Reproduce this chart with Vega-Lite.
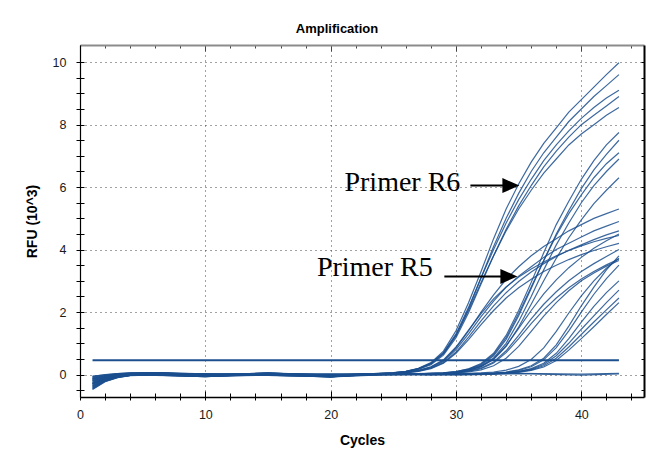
{
  "$schema": "https://vega.github.io/schema/vega-lite/v6.json",
  "autosize": "none",
  "width": 564,
  "height": 352,
  "padding": {"left": 80, "top": 45, "right": 15, "bottom": 62},
  "background": "#ffffff",
  "config": {"view": {"stroke": null}, "font": "Liberation Sans"},
  "title": {"text": "Amplification", "anchor": "middle", "dx": -25, "offset": 9, "font": "Liberation Sans", "fontSize": 13, "fontWeight": "bold", "color": "#000000"},
  "datasets": {
    "curves": [
      {"s":1,"c":1,"v":-0.12},{"s":1,"c":2,"v":-0.05},{"s":1,"c":3,"v":-0.02},{"s":1,"c":4,"v":0.02},{"s":1,"c":6,"v":0.05},{"s":1,"c":10,"v":-0.04},{"s":1,"c":15,"v":0.03},{"s":1,"c":20,"v":-0.06},{"s":1,"c":23,"v":0.02},{"s":1,"c":25,"v":0.06},{"s":1,"c":26,"v":0.1},{"s":1,"c":27,"v":0.2},{"s":1,"c":28,"v":0.38},{"s":1,"c":29,"v":0.75},{"s":1,"c":30,"v":1.4},{"s":1,"c":31,"v":2.3},{"s":1,"c":32,"v":3.3},{"s":1,"c":33,"v":4.35},{"s":1,"c":34,"v":5.3},{"s":1,"c":35,"v":6.1},{"s":1,"c":36,"v":6.8},{"s":1,"c":37,"v":7.4},{"s":1,"c":38,"v":7.9},{"s":1,"c":39,"v":8.4},{"s":1,"c":40,"v":8.8},{"s":1,"c":41,"v":9.2},{"s":1,"c":42,"v":9.6},{"s":1,"c":43,"v":9.98},
      {"s":2,"c":1,"v":-0.3},{"s":2,"c":2,"v":-0.14},{"s":2,"c":3,"v":-0.06},{"s":2,"c":4,"v":-0.02},{"s":2,"c":6,"v":-0.02},{"s":2,"c":10,"v":-0.07},{"s":2,"c":15,"v":0.02},{"s":2,"c":20,"v":-0.03},{"s":2,"c":23,"v":0.02},{"s":2,"c":25,"v":0.05},{"s":2,"c":26,"v":0.09},{"s":2,"c":27,"v":0.18},{"s":2,"c":28,"v":0.34},{"s":2,"c":29,"v":0.66},{"s":2,"c":30,"v":1.25},{"s":2,"c":31,"v":2.1},{"s":2,"c":32,"v":3.1},{"s":2,"c":33,"v":4.1},{"s":2,"c":34,"v":5.0},{"s":2,"c":35,"v":5.8},{"s":2,"c":36,"v":6.5},{"s":2,"c":37,"v":7.1},{"s":2,"c":38,"v":7.6},{"s":2,"c":39,"v":8.1},{"s":2,"c":40,"v":8.5},{"s":2,"c":41,"v":8.9},{"s":2,"c":42,"v":9.25},{"s":2,"c":43,"v":9.6},
      {"s":3,"c":1,"v":-0.2},{"s":3,"c":2,"v":-0.09},{"s":3,"c":3,"v":-0.03},{"s":3,"c":4,"v":0.03},{"s":3,"c":6,"v":0.06},{"s":3,"c":10,"v":0.02},{"s":3,"c":15,"v":-0.02},{"s":3,"c":20,"v":-0.08},{"s":3,"c":23,"v":0.01},{"s":3,"c":25,"v":0.05},{"s":3,"c":26,"v":0.1},{"s":3,"c":27,"v":0.19},{"s":3,"c":28,"v":0.36},{"s":3,"c":29,"v":0.7},{"s":3,"c":30,"v":1.3},{"s":3,"c":31,"v":2.15},{"s":3,"c":32,"v":3.1},{"s":3,"c":33,"v":4.0},{"s":3,"c":34,"v":4.85},{"s":3,"c":35,"v":5.6},{"s":3,"c":36,"v":6.25},{"s":3,"c":37,"v":6.85},{"s":3,"c":38,"v":7.35},{"s":3,"c":39,"v":7.8},{"s":3,"c":40,"v":8.2},{"s":3,"c":41,"v":8.55},{"s":3,"c":42,"v":8.85},{"s":3,"c":43,"v":9.1},
      {"s":4,"c":1,"v":-0.42},{"s":4,"c":2,"v":-0.2},{"s":4,"c":3,"v":-0.08},{"s":4,"c":4,"v":-0.03},{"s":4,"c":6,"v":0.0},{"s":4,"c":10,"v":-0.05},{"s":4,"c":15,"v":0.04},{"s":4,"c":20,"v":-0.02},{"s":4,"c":23,"v":0.02},{"s":4,"c":25,"v":0.04},{"s":4,"c":26,"v":0.08},{"s":4,"c":27,"v":0.16},{"s":4,"c":28,"v":0.31},{"s":4,"c":29,"v":0.62},{"s":4,"c":30,"v":1.18},{"s":4,"c":31,"v":1.98},{"s":4,"c":32,"v":2.9},{"s":4,"c":33,"v":3.8},{"s":4,"c":34,"v":4.65},{"s":4,"c":35,"v":5.4},{"s":4,"c":36,"v":6.05},{"s":4,"c":37,"v":6.65},{"s":4,"c":38,"v":7.15},{"s":4,"c":39,"v":7.6},{"s":4,"c":40,"v":8.0},{"s":4,"c":41,"v":8.3},{"s":4,"c":42,"v":8.6},{"s":4,"c":43,"v":8.9},
      {"s":5,"c":1,"v":-0.08},{"s":5,"c":2,"v":-0.03},{"s":5,"c":3,"v":0.02},{"s":5,"c":4,"v":0.04},{"s":5,"c":6,"v":0.04},{"s":5,"c":10,"v":-0.02},{"s":5,"c":15,"v":0.0},{"s":5,"c":20,"v":-0.07},{"s":5,"c":23,"v":0.01},{"s":5,"c":25,"v":0.05},{"s":5,"c":26,"v":0.09},{"s":5,"c":27,"v":0.18},{"s":5,"c":28,"v":0.35},{"s":5,"c":29,"v":0.68},{"s":5,"c":30,"v":1.25},{"s":5,"c":31,"v":2.05},{"s":5,"c":32,"v":2.95},{"s":5,"c":33,"v":3.8},{"s":5,"c":34,"v":4.6},{"s":5,"c":35,"v":5.3},{"s":5,"c":36,"v":5.9},{"s":5,"c":37,"v":6.45},{"s":5,"c":38,"v":6.9},{"s":5,"c":39,"v":7.35},{"s":5,"c":40,"v":7.7},{"s":5,"c":41,"v":8.0},{"s":5,"c":42,"v":8.3},{"s":5,"c":43,"v":8.55},
      {"s":6,"c":1,"v":-0.25},{"s":6,"c":2,"v":-0.11},{"s":6,"c":3,"v":-0.04},{"s":6,"c":4,"v":-0.01},{"s":6,"c":6,"v":0.02},{"s":6,"c":10,"v":-0.06},{"s":6,"c":15,"v":0.05},{"s":6,"c":20,"v":-0.04},{"s":6,"c":23,"v":0.01},{"s":6,"c":25,"v":0.04},{"s":6,"c":26,"v":0.07},{"s":6,"c":27,"v":0.13},{"s":6,"c":28,"v":0.24},{"s":6,"c":29,"v":0.45},{"s":6,"c":30,"v":0.85},{"s":6,"c":31,"v":1.4},{"s":6,"c":32,"v":2.0},{"s":6,"c":33,"v":2.55},{"s":6,"c":34,"v":3.05},{"s":6,"c":35,"v":3.45},{"s":6,"c":36,"v":3.8},{"s":6,"c":37,"v":4.1},{"s":6,"c":38,"v":4.35},{"s":6,"c":39,"v":4.6},{"s":6,"c":40,"v":4.8},{"s":6,"c":41,"v":5.0},{"s":6,"c":42,"v":5.15},{"s":6,"c":43,"v":5.3},
      {"s":7,"c":1,"v":-0.35},{"s":7,"c":2,"v":-0.16},{"s":7,"c":3,"v":-0.06},{"s":7,"c":4,"v":-0.02},{"s":7,"c":6,"v":-0.03},{"s":7,"c":10,"v":0.01},{"s":7,"c":15,"v":-0.03},{"s":7,"c":20,"v":-0.05},{"s":7,"c":23,"v":0.01},{"s":7,"c":25,"v":0.04},{"s":7,"c":26,"v":0.07},{"s":7,"c":27,"v":0.12},{"s":7,"c":28,"v":0.22},{"s":7,"c":29,"v":0.42},{"s":7,"c":30,"v":0.8},{"s":7,"c":31,"v":1.3},{"s":7,"c":32,"v":1.85},{"s":7,"c":33,"v":2.35},{"s":7,"c":34,"v":2.8},{"s":7,"c":35,"v":3.15},{"s":7,"c":36,"v":3.45},{"s":7,"c":37,"v":3.75},{"s":7,"c":38,"v":4.0},{"s":7,"c":39,"v":4.2},{"s":7,"c":40,"v":4.4},{"s":7,"c":41,"v":4.6},{"s":7,"c":42,"v":4.75},{"s":7,"c":43,"v":4.9},
      {"s":8,"c":1,"v":-0.15},{"s":8,"c":2,"v":-0.06},{"s":8,"c":3,"v":0.01},{"s":8,"c":4,"v":0.03},{"s":8,"c":6,"v":0.05},{"s":8,"c":10,"v":-0.03},{"s":8,"c":15,"v":0.01},{"s":8,"c":20,"v":0.02},{"s":8,"c":23,"v":0.02},{"s":8,"c":25,"v":0.03},{"s":8,"c":26,"v":0.06},{"s":8,"c":27,"v":0.11},{"s":8,"c":28,"v":0.2},{"s":8,"c":29,"v":0.38},{"s":8,"c":30,"v":0.72},{"s":8,"c":31,"v":1.2},{"s":8,"c":32,"v":1.72},{"s":8,"c":33,"v":2.2},{"s":8,"c":34,"v":2.62},{"s":8,"c":35,"v":2.98},{"s":8,"c":36,"v":3.28},{"s":8,"c":37,"v":3.55},{"s":8,"c":38,"v":3.78},{"s":8,"c":39,"v":3.98},{"s":8,"c":40,"v":4.15},{"s":8,"c":41,"v":4.32},{"s":8,"c":42,"v":4.47},{"s":8,"c":43,"v":4.6},
      {"s":9,"c":1,"v":-0.46},{"s":9,"c":2,"v":-0.22},{"s":9,"c":3,"v":-0.09},{"s":9,"c":4,"v":-0.03},{"s":9,"c":6,"v":-0.01},{"s":9,"c":10,"v":-0.05},{"s":9,"c":15,"v":0.03},{"s":9,"c":20,"v":-0.08},{"s":9,"c":23,"v":0.01},{"s":9,"c":25,"v":0.04},{"s":9,"c":26,"v":0.07},{"s":9,"c":27,"v":0.13},{"s":9,"c":28,"v":0.25},{"s":9,"c":29,"v":0.47},{"s":9,"c":30,"v":0.88},{"s":9,"c":31,"v":1.42},{"s":9,"c":32,"v":1.95},{"s":9,"c":33,"v":2.42},{"s":9,"c":34,"v":2.8},{"s":9,"c":35,"v":3.12},{"s":9,"c":36,"v":3.38},{"s":9,"c":37,"v":3.6},{"s":9,"c":38,"v":3.8},{"s":9,"c":39,"v":3.97},{"s":9,"c":40,"v":4.12},{"s":9,"c":41,"v":4.25},{"s":9,"c":42,"v":4.36},{"s":9,"c":43,"v":4.45},
      {"s":10,"c":1,"v":-0.05},{"s":10,"c":2,"v":-0.01},{"s":10,"c":3,"v":0.03},{"s":10,"c":4,"v":0.05},{"s":10,"c":6,"v":0.06},{"s":10,"c":10,"v":0.0},{"s":10,"c":15,"v":-0.01},{"s":10,"c":20,"v":-0.03},{"s":10,"c":23,"v":0.01},{"s":10,"c":25,"v":0.03},{"s":10,"c":26,"v":0.05},{"s":10,"c":27,"v":0.1},{"s":10,"c":28,"v":0.19},{"s":10,"c":29,"v":0.36},{"s":10,"c":30,"v":0.68},{"s":10,"c":31,"v":1.12},{"s":10,"c":32,"v":1.6},{"s":10,"c":33,"v":2.05},{"s":10,"c":34,"v":2.45},{"s":10,"c":35,"v":2.78},{"s":10,"c":36,"v":3.05},{"s":10,"c":37,"v":3.3},{"s":10,"c":38,"v":3.5},{"s":10,"c":39,"v":3.68},{"s":10,"c":40,"v":3.84},{"s":10,"c":41,"v":3.97},{"s":10,"c":42,"v":4.09},{"s":10,"c":43,"v":4.2},
      {"s":11,"c":1,"v":-0.28},{"s":11,"c":2,"v":-0.12},{"s":11,"c":3,"v":-0.05},{"s":11,"c":4,"v":-0.01},{"s":11,"c":6,"v":0.03},{"s":11,"c":10,"v":-0.06},{"s":11,"c":15,"v":0.02},{"s":11,"c":20,"v":-0.05},{"s":11,"c":24,"v":0.0},{"s":11,"c":27,"v":0.02},{"s":11,"c":29,"v":0.05},{"s":11,"c":30,"v":0.09},{"s":11,"c":31,"v":0.18},{"s":11,"c":32,"v":0.35},{"s":11,"c":33,"v":0.68},{"s":11,"c":34,"v":1.25},{"s":11,"c":35,"v":2.05},{"s":11,"c":36,"v":2.95},{"s":11,"c":37,"v":3.9},{"s":11,"c":38,"v":4.8},{"s":11,"c":39,"v":5.55},{"s":11,"c":40,"v":6.25},{"s":11,"c":41,"v":6.85},{"s":11,"c":42,"v":7.35},{"s":11,"c":43,"v":7.75},
      {"s":12,"c":1,"v":-0.38},{"s":12,"c":2,"v":-0.18},{"s":12,"c":3,"v":-0.07},{"s":12,"c":4,"v":-0.02},{"s":12,"c":6,"v":-0.02},{"s":12,"c":10,"v":-0.03},{"s":12,"c":15,"v":0.04},{"s":12,"c":20,"v":-0.07},{"s":12,"c":24,"v":0.01},{"s":12,"c":27,"v":0.02},{"s":12,"c":29,"v":0.04},{"s":12,"c":30,"v":0.08},{"s":12,"c":31,"v":0.16},{"s":12,"c":32,"v":0.3},{"s":12,"c":33,"v":0.6},{"s":12,"c":34,"v":1.12},{"s":12,"c":35,"v":1.88},{"s":12,"c":36,"v":2.75},{"s":12,"c":37,"v":3.65},{"s":12,"c":38,"v":4.5},{"s":12,"c":39,"v":5.25},{"s":12,"c":40,"v":5.95},{"s":12,"c":41,"v":6.55},{"s":12,"c":42,"v":7.05},{"s":12,"c":43,"v":7.5},
      {"s":13,"c":1,"v":-0.18},{"s":13,"c":2,"v":-0.08},{"s":13,"c":3,"v":-0.01},{"s":13,"c":4,"v":0.02},{"s":13,"c":6,"v":0.04},{"s":13,"c":10,"v":0.02},{"s":13,"c":15,"v":-0.02},{"s":13,"c":20,"v":-0.02},{"s":13,"c":24,"v":0.0},{"s":13,"c":27,"v":0.02},{"s":13,"c":29,"v":0.05},{"s":13,"c":30,"v":0.09},{"s":13,"c":31,"v":0.17},{"s":13,"c":32,"v":0.33},{"s":13,"c":33,"v":0.64},{"s":13,"c":34,"v":1.18},{"s":13,"c":35,"v":1.95},{"s":13,"c":36,"v":2.8},{"s":13,"c":37,"v":3.65},{"s":13,"c":38,"v":4.45},{"s":13,"c":39,"v":5.15},{"s":13,"c":40,"v":5.75},{"s":13,"c":41,"v":6.3},{"s":13,"c":42,"v":6.75},{"s":13,"c":43,"v":7.1},
      {"s":14,"c":1,"v":-0.1},{"s":14,"c":2,"v":-0.04},{"s":14,"c":3,"v":0.01},{"s":14,"c":4,"v":0.03},{"s":14,"c":6,"v":0.05},{"s":14,"c":10,"v":-0.04},{"s":14,"c":15,"v":0.0},{"s":14,"c":20,"v":0.01},{"s":14,"c":24,"v":0.01},{"s":14,"c":27,"v":0.02},{"s":14,"c":29,"v":0.04},{"s":14,"c":30,"v":0.07},{"s":14,"c":31,"v":0.14},{"s":14,"c":32,"v":0.27},{"s":14,"c":33,"v":0.53},{"s":14,"c":34,"v":1.0},{"s":14,"c":35,"v":1.7},{"s":14,"c":36,"v":2.5},{"s":14,"c":37,"v":3.35},{"s":14,"c":38,"v":4.15},{"s":14,"c":39,"v":4.85},{"s":14,"c":40,"v":5.5},{"s":14,"c":41,"v":6.05},{"s":14,"c":42,"v":6.5},{"s":14,"c":43,"v":6.9},
      {"s":15,"c":1,"v":-0.32},{"s":15,"c":2,"v":-0.15},{"s":15,"c":3,"v":-0.06},{"s":15,"c":4,"v":-0.02},{"s":15,"c":6,"v":-0.01},{"s":15,"c":10,"v":-0.07},{"s":15,"c":15,"v":0.03},{"s":15,"c":20,"v":-0.06},{"s":15,"c":24,"v":0.0},{"s":15,"c":27,"v":0.02},{"s":15,"c":29,"v":0.04},{"s":15,"c":30,"v":0.07},{"s":15,"c":31,"v":0.13},{"s":15,"c":32,"v":0.25},{"s":15,"c":33,"v":0.48},{"s":15,"c":34,"v":0.9},{"s":15,"c":35,"v":1.52},{"s":15,"c":36,"v":2.25},{"s":15,"c":37,"v":3.0},{"s":15,"c":38,"v":3.72},{"s":15,"c":39,"v":4.38},{"s":15,"c":40,"v":4.95},{"s":15,"c":41,"v":5.47},{"s":15,"c":42,"v":5.9},{"s":15,"c":43,"v":6.3},
      {"s":16,"c":1,"v":-0.22},{"s":16,"c":2,"v":-0.1},{"s":16,"c":3,"v":-0.04},{"s":16,"c":4,"v":-0.01},{"s":16,"c":6,"v":0.03},{"s":16,"c":10,"v":-0.02},{"s":16,"c":15,"v":0.05},{"s":16,"c":20,"v":-0.04},{"s":16,"c":24,"v":0.01},{"s":16,"c":27,"v":0.02},{"s":16,"c":29,"v":0.04},{"s":16,"c":30,"v":0.06},{"s":16,"c":31,"v":0.11},{"s":16,"c":32,"v":0.21},{"s":16,"c":33,"v":0.4},{"s":16,"c":34,"v":0.76},{"s":16,"c":35,"v":1.25},{"s":16,"c":36,"v":1.78},{"s":16,"c":37,"v":2.25},{"s":16,"c":38,"v":2.65},{"s":16,"c":39,"v":3.0},{"s":16,"c":40,"v":3.3},{"s":16,"c":41,"v":3.55},{"s":16,"c":42,"v":3.78},{"s":16,"c":43,"v":4.0},
      {"s":17,"c":1,"v":-0.4},{"s":17,"c":2,"v":-0.19},{"s":17,"c":3,"v":-0.08},{"s":17,"c":4,"v":-0.03},{"s":17,"c":6,"v":-0.03},{"s":17,"c":10,"v":-0.06},{"s":17,"c":15,"v":-0.01},{"s":17,"c":20,"v":-0.08},{"s":17,"c":24,"v":0.0},{"s":17,"c":27,"v":0.02},{"s":17,"c":29,"v":0.03},{"s":17,"c":30,"v":0.06},{"s":17,"c":31,"v":0.1},{"s":17,"c":32,"v":0.19},{"s":17,"c":33,"v":0.37},{"s":17,"c":34,"v":0.7},{"s":17,"c":35,"v":1.15},{"s":17,"c":36,"v":1.63},{"s":17,"c":37,"v":2.07},{"s":17,"c":38,"v":2.45},{"s":17,"c":39,"v":2.78},{"s":17,"c":40,"v":3.06},{"s":17,"c":41,"v":3.3},{"s":17,"c":42,"v":3.51},{"s":17,"c":43,"v":3.7},
      {"s":18,"c":1,"v":-0.14},{"s":18,"c":2,"v":-0.06},{"s":18,"c":3,"v":0.0},{"s":18,"c":4,"v":0.02},{"s":18,"c":6,"v":0.06},{"s":18,"c":10,"v":0.01},{"s":18,"c":15,"v":0.02},{"s":18,"c":20,"v":-0.01},{"s":18,"c":24,"v":0.01},{"s":18,"c":27,"v":0.03},{"s":18,"c":29,"v":0.05},{"s":18,"c":30,"v":0.08},{"s":18,"c":31,"v":0.14},{"s":18,"c":32,"v":0.26},{"s":18,"c":33,"v":0.5},{"s":18,"c":34,"v":0.92},{"s":18,"c":35,"v":1.48},{"s":18,"c":36,"v":2.05},{"s":18,"c":37,"v":2.58},{"s":18,"c":38,"v":3.03},{"s":18,"c":39,"v":3.42},{"s":18,"c":40,"v":3.75},{"s":18,"c":41,"v":4.04},{"s":18,"c":42,"v":4.28},{"s":18,"c":43,"v":4.5},
      {"s":19,"c":1,"v":-0.3},{"s":19,"c":2,"v":-0.14},{"s":19,"c":3,"v":-0.05},{"s":19,"c":4,"v":-0.01},{"s":19,"c":6,"v":0.01},{"s":19,"c":10,"v":-0.05},{"s":19,"c":15,"v":0.03},{"s":19,"c":20,"v":-0.05},{"s":19,"c":24,"v":0.0},{"s":19,"c":27,"v":0.01},{"s":19,"c":29,"v":0.03},{"s":19,"c":30,"v":0.05},{"s":19,"c":31,"v":0.08},{"s":19,"c":32,"v":0.15},{"s":19,"c":33,"v":0.28},{"s":19,"c":34,"v":0.52},{"s":19,"c":35,"v":0.9},{"s":19,"c":36,"v":1.38},{"s":19,"c":37,"v":1.87},{"s":19,"c":38,"v":2.3},{"s":19,"c":39,"v":2.68},{"s":19,"c":40,"v":3.0},{"s":19,"c":41,"v":3.25},{"s":19,"c":42,"v":3.47},{"s":19,"c":43,"v":3.65},
      {"s":20,"c":1,"v":-0.26},{"s":20,"c":2,"v":-0.12},{"s":20,"c":3,"v":-0.05},{"s":20,"c":4,"v":-0.01},{"s":20,"c":6,"v":0.04},{"s":20,"c":10,"v":-0.03},{"s":20,"c":15,"v":0.0},{"s":20,"c":20,"v":-0.06},{"s":20,"c":24,"v":0.02},{"s":20,"c":28,"v":0.03},{"s":20,"c":31,"v":0.0},{"s":20,"c":33,"v":0.05},{"s":20,"c":34,"v":0.08},{"s":20,"c":35,"v":0.15},{"s":20,"c":36,"v":0.28},{"s":20,"c":37,"v":0.52},{"s":20,"c":38,"v":0.95},{"s":20,"c":39,"v":1.55},{"s":20,"c":40,"v":2.2},{"s":20,"c":41,"v":2.8},{"s":20,"c":42,"v":3.35},{"s":20,"c":43,"v":3.8},
      {"s":21,"c":1,"v":-0.12},{"s":21,"c":2,"v":-0.05},{"s":21,"c":3,"v":0.0},{"s":21,"c":4,"v":0.03},{"s":21,"c":6,"v":0.05},{"s":21,"c":10,"v":-0.01},{"s":21,"c":15,"v":0.04},{"s":21,"c":20,"v":0.0},{"s":21,"c":24,"v":-0.02},{"s":21,"c":28,"v":0.01},{"s":21,"c":31,"v":0.04},{"s":21,"c":33,"v":0.04},{"s":21,"c":34,"v":0.07},{"s":21,"c":35,"v":0.13},{"s":21,"c":36,"v":0.25},{"s":21,"c":37,"v":0.47},{"s":21,"c":38,"v":0.86},{"s":21,"c":39,"v":1.4},{"s":21,"c":40,"v":2.0},{"s":21,"c":41,"v":2.57},{"s":21,"c":42,"v":3.07},{"s":21,"c":43,"v":3.5},
      {"s":22,"c":1,"v":-0.36},{"s":22,"c":2,"v":-0.17},{"s":22,"c":3,"v":-0.07},{"s":22,"c":4,"v":-0.02},{"s":22,"c":6,"v":-0.02},{"s":22,"c":10,"v":-0.07},{"s":22,"c":15,"v":0.01},{"s":22,"c":20,"v":-0.04},{"s":22,"c":24,"v":0.0},{"s":22,"c":28,"v":-0.02},{"s":22,"c":31,"v":0.02},{"s":22,"c":33,"v":0.03},{"s":22,"c":34,"v":0.05},{"s":22,"c":35,"v":0.1},{"s":22,"c":36,"v":0.19},{"s":22,"c":37,"v":0.36},{"s":22,"c":38,"v":0.68},{"s":22,"c":39,"v":1.15},{"s":22,"c":40,"v":1.68},{"s":22,"c":41,"v":2.18},{"s":22,"c":42,"v":2.62},{"s":22,"c":43,"v":3.0},
      {"s":23,"c":1,"v":-0.2},{"s":23,"c":2,"v":-0.09},{"s":23,"c":3,"v":-0.03},{"s":23,"c":4,"v":0.0},{"s":23,"c":6,"v":0.02},{"s":23,"c":10,"v":0.02},{"s":23,"c":15,"v":-0.03},{"s":23,"c":20,"v":-0.07},{"s":23,"c":24,"v":0.01},{"s":23,"c":28,"v":0.02},{"s":23,"c":31,"v":0.03},{"s":23,"c":32,"v":0.05},{"s":23,"c":33,"v":0.08},{"s":23,"c":34,"v":0.14},{"s":23,"c":35,"v":0.26},{"s":23,"c":36,"v":0.48},{"s":23,"c":37,"v":0.85},{"s":23,"c":38,"v":1.38},{"s":23,"c":39,"v":1.97},{"s":23,"c":40,"v":2.52},{"s":23,"c":41,"v":3.0},{"s":23,"c":42,"v":3.4},{"s":23,"c":43,"v":3.72},
      {"s":24,"c":1,"v":-0.44},{"s":24,"c":2,"v":-0.21},{"s":24,"c":3,"v":-0.09},{"s":24,"c":4,"v":-0.03},{"s":24,"c":6,"v":0.0},{"s":24,"c":10,"v":-0.04},{"s":24,"c":15,"v":0.02},{"s":24,"c":20,"v":-0.03},{"s":24,"c":24,"v":0.03},{"s":24,"c":28,"v":0.0},{"s":24,"c":31,"v":0.02},{"s":24,"c":33,"v":0.03},{"s":24,"c":34,"v":0.05},{"s":24,"c":35,"v":0.09},{"s":24,"c":36,"v":0.17},{"s":24,"c":37,"v":0.32},{"s":24,"c":38,"v":0.6},{"s":24,"c":39,"v":1.0},{"s":24,"c":40,"v":1.45},{"s":24,"c":41,"v":1.88},{"s":24,"c":42,"v":2.3},{"s":24,"c":43,"v":2.7},
      {"s":25,"c":1,"v":-0.16},{"s":25,"c":2,"v":-0.07},{"s":25,"c":3,"v":0.01},{"s":25,"c":4,"v":0.04},{"s":25,"c":6,"v":0.06},{"s":25,"c":10,"v":-0.02},{"s":25,"c":15,"v":0.05},{"s":25,"c":20,"v":-0.02},{"s":25,"c":24,"v":0.01},{"s":25,"c":28,"v":0.03},{"s":25,"c":31,"v":0.01},{"s":25,"c":33,"v":0.03},{"s":25,"c":34,"v":0.05},{"s":25,"c":35,"v":0.08},{"s":25,"c":36,"v":0.15},{"s":25,"c":37,"v":0.28},{"s":25,"c":38,"v":0.52},{"s":25,"c":39,"v":0.88},{"s":25,"c":40,"v":1.28},{"s":25,"c":41,"v":1.68},{"s":25,"c":42,"v":2.07},{"s":25,"c":43,"v":2.45},
      {"s":26,"c":1,"v":-0.3},{"s":26,"c":2,"v":-0.14},{"s":26,"c":3,"v":-0.05},{"s":26,"c":4,"v":-0.01},{"s":26,"c":6,"v":0.01},{"s":26,"c":10,"v":-0.06},{"s":26,"c":15,"v":-0.02},{"s":26,"c":20,"v":-0.08},{"s":26,"c":24,"v":-0.01},{"s":26,"c":28,"v":0.01},{"s":26,"c":31,"v":0.0},{"s":26,"c":33,"v":0.02},{"s":26,"c":34,"v":0.04},{"s":26,"c":35,"v":0.07},{"s":26,"c":36,"v":0.13},{"s":26,"c":37,"v":0.24},{"s":26,"c":38,"v":0.45},{"s":26,"c":39,"v":0.78},{"s":26,"c":40,"v":1.15},{"s":26,"c":41,"v":1.53},{"s":26,"c":42,"v":1.92},{"s":26,"c":43,"v":2.3},
      {"s":27,"c":1,"v":-0.48},{"s":27,"c":2,"v":-0.23},{"s":27,"c":3,"v":-0.1},{"s":27,"c":4,"v":-0.04},{"s":27,"c":6,"v":-0.01},{"s":27,"c":10,"v":-0.05},{"s":27,"c":15,"v":0.01},{"s":27,"c":20,"v":-0.05},{"s":27,"c":25,"v":0.02},{"s":27,"c":30,"v":-0.02},{"s":27,"c":35,"v":0.03},{"s":27,"c":40,"v":-0.02},{"s":27,"c":43,"v":0.02},
      {"s":28,"c":1,"v":-0.07},{"s":28,"c":2,"v":0.0},{"s":28,"c":3,"v":0.03},{"s":28,"c":4,"v":0.05},{"s":28,"c":6,"v":0.04},{"s":28,"c":10,"v":0.01},{"s":28,"c":15,"v":0.03},{"s":28,"c":20,"v":-0.01},{"s":28,"c":25,"v":0.04},{"s":28,"c":30,"v":0.02},{"s":28,"c":35,"v":0.04},{"s":28,"c":40,"v":0.01},{"s":28,"c":43,"v":0.04}
    ],
    "threshold": [{"x": 1, "x2": 43, "y": 0.46}],
    "arrows": [{"x": 31.15, "x2": 34.3, "y": 6.05}, {"x": 29.07, "x2": 34.1, "y": 3.14}],
    "heads": [{"x": 34.38, "y": 6.05}, {"x": 34.22, "y": 3.14}],
    "notes": [{"t": "Primer R6", "x": 21.1, "y": 5.86}, {"t": "Primer R5", "x": 18.9, "y": 3.17}]
  },
  "layer": [
    {
      "data": {"name": "curves"},
      "mark": {"type": "line", "strokeWidth": 1.2, "color": "#1b4f8e", "opacity": 0.85},
      "encoding": {
        "x": {
          "field": "c", "type": "quantitative",
          "scale": {"domain": [0, 45], "nice": false, "zero": false},
          "axis": {
            "orient": "bottom", "title": "Cycles",
            "values": [0,2,4,6,8,10,12,14,16,18,20,22,24,26,28,30,32,34,36,38,40,42,44],
            "labelExpr": "datum.value % 10 === 0 ? format(datum.value, 'd') : ''",
            "labelOverlap": false, "labelFlush": false,
            "labelFont": "Liberation Sans", "labelFontSize": 12.5, "labelColor": "#1a1a1a", "labelPadding": 8,
            "tickSize": 3, "tickColor": "#000000", "domainColor": "#000000", "domainWidth": 1.5,
            "grid": true, "gridColor": "#444444", "gridDash": [1, 4],
            "gridOpacity": {"condition": {"test": "datum.value % 10 === 0", "value": 1}, "value": 0},
            "titleFont": "Liberation Sans", "titleFontSize": 14, "titleFontWeight": "bold", "titleColor": "#000000", "titlePadding": 13
          }
        },
        "y": {
          "field": "v", "type": "quantitative",
          "scale": {"domain": [-0.72, 10.55], "nice": false, "zero": false},
          "axis": {
            "orient": "left", "title": "RFU (10^3)",
            "values": [-0.5,0,0.5,1,1.5,2,2.5,3,3.5,4,4.5,5,5.5,6,6.5,7,7.5,8,8.5,9,9.5,10],
            "labelExpr": "datum.value % 2 === 0 ? format(datum.value, 'd') : ''",
            "labelOverlap": false, "labelFlush": false,
            "labelFont": "Liberation Sans", "labelFontSize": 12.5, "labelColor": "#1a1a1a", "labelPadding": 10,
            "tickSize": 4, "tickColor": "#000000", "domainColor": "#000000", "domainWidth": 1.2,
            "grid": true, "gridColor": "#444444", "gridDash": [1, 4],
            "gridOpacity": {"condition": {"test": "datum.value % 2 === 0", "value": 1}, "value": 0},
            "titleFont": "Liberation Sans", "titleFontSize": 14, "titleFontWeight": "bold", "titleColor": "#000000", "titlePadding": 13
          }
        },
        "detail": {"field": "s", "type": "nominal"}
      }
    },
    {
      "data": {"name": "threshold"},
      "mark": {"type": "rule", "color": "#1b4f8e", "strokeWidth": 2},
      "encoding": {
        "x": {
          "field": "x", "type": "quantitative",
          "scale": {"domain": [0, 45], "nice": false, "zero": false},
          "axis": {
            "orient": "top", "title": null, "labels": false, "grid": false,
            "values": [0,2,4,6,8,10,12,14,16,18,20,22,24,26,28,30,32,34,36,38,40,42,44],
            "domainColor": "#8c8c8c", "domainWidth": 2, "tickColor": "#444444",
            "tickSize": {"condition": {"test": "datum.value % 10 === 0", "value": -6}, "value": -3}
          }
        },
        "x2": {"field": "x2"},
        "y": {
          "field": "y", "type": "quantitative",
          "scale": {"domain": [-0.72, 10.55], "nice": false, "zero": false},
          "axis": {
            "orient": "right", "title": null, "labels": false, "grid": false,
            "values": [-0.5,0,0.5,1,1.5,2,2.5,3,3.5,4,4.5,5,5.5,6,6.5,7,7.5,8,8.5,9,9.5,10],
            "domainColor": "#000000", "domainWidth": 2, "tickColor": "#000000", "tickSize": -3
          }
        }
      }
    },
    {
      "data": {"name": "arrows"},
      "mark": {"type": "rule", "color": "#000000", "strokeWidth": 2},
      "encoding": {
        "x": {
          "field": "x", "type": "quantitative",
          "scale": {"domain": [0, 45], "nice": false, "zero": false},
          "axis": {
            "orient": "bottom", "title": null, "labels": false, "grid": false, "domain": false,
            "values": [0,2,4,6,8,10,12,14,16,18,20,22,24,26,28,30,32,34,36,38,40,42,44],
            "tickColor": "#000000",
            "tickSize": {"condition": {"test": "datum.value % 10 === 0", "value": -6}, "value": -4}
          }
        },
        "x2": {"field": "x2"},
        "y": {
          "field": "y", "type": "quantitative",
          "scale": {"domain": [-0.72, 10.55], "nice": false, "zero": false},
          "axis": {
            "orient": "left", "title": null, "labels": false, "grid": false, "domain": false,
            "values": [-0.5,0,0.5,1,1.5,2,2.5,3,3.5,4,4.5,5,5.5,6,6.5,7,7.5,8,8.5,9,9.5,10],
            "tickColor": "#000000", "tickSize": -4
          }
        }
      }
    },
    {
      "data": {"name": "heads"},
      "mark": {"type": "point", "shape": "M-1,-0.88L1,0L-1,0.88Z", "size": 289, "filled": true, "color": "#000000", "opacity": 1, "strokeWidth": 0},
      "encoding": {
        "x": {"field": "x", "type": "quantitative", "scale": {"domain": [0, 45], "nice": false, "zero": false}, "axis": null},
        "y": {"field": "y", "type": "quantitative", "scale": {"domain": [-0.72, 10.55], "nice": false, "zero": false}, "axis": null}
      }
    },
    {
      "data": {"name": "notes"},
      "mark": {"type": "text", "font": "Liberation Serif", "fontSize": 28, "align": "left", "baseline": "alphabetic", "color": "#000000"},
      "encoding": {
        "x": {"field": "x", "type": "quantitative", "scale": {"domain": [0, 45], "nice": false, "zero": false}, "axis": null},
        "y": {"field": "y", "type": "quantitative", "scale": {"domain": [-0.72, 10.55], "nice": false, "zero": false}, "axis": null},
        "text": {"field": "t"}
      }
    }
  ],
  "resolve": {"axis": {"x": "independent", "y": "independent"}}
}
